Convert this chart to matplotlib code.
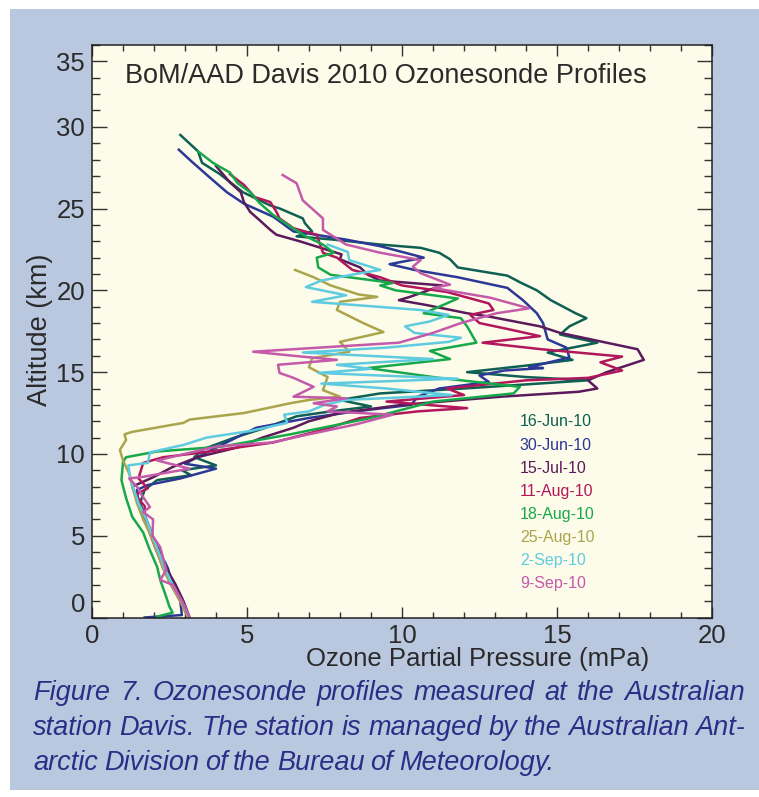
import matplotlib
matplotlib.use("Agg")
import matplotlib.pyplot as plt
from matplotlib.patches import Rectangle
from matplotlib.ticker import MultipleLocator

# ozonesonde profiles: partial pressure (mPa) against altitude (km)
dates = ["16-Jun-10", "30-Jun-10", "15-Jul-10", "11-Aug-10",
         "18-Aug-10", "25-Aug-10", "2-Sep-10", "9-Sep-10"]
colors = ["#0e5f54", "#2b3896", "#5b1a5c", "#b2175c",
          "#17a84b", "#aaa54c", "#5fcbe0", "#c45aaa"]

jun16_alt = [0, 1, 2, 3, 4, 5, 6, 7, 7.8, 8.4, 8.7, 9.0, 9.3, 9.8, 10.3, 11.0, 11.6, 12.3, 12.6, 12.9,
             13.3, 13.7, 14.0, 14.5, 14.7, 15.0, 15.4, 15.75, 16.2, 16.8, 17.3, 17.8, 18.3, 18.6, 19.4,
             20.0, 20.5, 20.9, 21.4, 21.9, 22.3, 22.6, 22.8, 23.1, 23.3, 23.6, 24.1, 24.4, 25.0, 25.2,
             26.0, 27.1, 27.8, 28.5, 29.5]
jun16_o3 = [3.1, 2.9, 2.6, 2.35, 2.15, 1.95, 1.75, 1.55, 1.7, 2.1, 3.2, 2.9, 4.0, 3.3, 3.6, 4.6, 5.6, 6.6, 7.7, 9.0,
            8.0, 9.3, 12.0, 16.0, 14.0, 12.1, 14.0, 15.5, 14.7, 16.3, 15.1, 15.4, 15.95, 15.6, 14.8,
            14.35, 13.8, 13.4, 11.8, 11.55, 11.2, 10.6, 9.3, 7.8, 6.6, 7.1, 6.87, 6.8, 6.06, 5.74,
            4.87, 4.13, 3.55, 3.42, 2.85]

jun30_alt = [0, 0.15, 1, 2, 3, 3.4, 4, 5, 6, 7, 7.8, 8.1, 8.5, 9.1, 9.4, 10.0, 10.9, 11.6, 12.2, 12.6,
             13.0, 13.5, 14.0, 14.4, 14.8, 15.1, 15.25, 15.3, 15.9, 16.5, 17.0, 18.0, 18.6, 19.4, 20.15,
             20.8, 21.25, 21.6, 22.0, 22.7, 23.1, 23.5, 23.6, 24.5, 25.3, 26.0, 26.9, 27.9, 28.6]
jun30_o3 = [1.7, 2.9, 2.85, 2.6, 2.45, 2.35, 2.1, 1.9, 1.7, 1.5, 1.45, 1.8, 2.85, 4.0, 3.0, 3.6, 4.55, 5.3, 7.0, 8.5,
            10.3, 10.5, 11.2, 12.8, 12.5, 13.3, 14.55, 14.1, 15.4, 15.3, 14.7, 14.55, 14.35, 13.9, 13.4,
            11.8, 10.4, 9.6, 10.7, 9.3, 8.2, 6.9, 6.5, 5.85, 4.9, 4.35, 3.8, 3.2, 2.8]

jul15_alt = [0, 1, 2, 3, 4, 5, 6, 7, 8.0, 8.6, 9.2, 9.8, 10.4, 11.0, 11.6, 12.0, 12.5, 13.0, 13.5, 13.8,
             14.0, 14.5, 15.0, 15.75, 16.4, 16.5, 17.4, 17.8, 18.4, 18.6, 19.1, 19.4, 19.6, 20.3, 20.6,
             20.95, 21.4, 21.9, 22.2, 22.35, 23.0, 23.4, 23.7, 24.3, 24.8, 25.4, 26.0, 26.6, 27.6]
jul15_o3 = [3.15, 2.95, 2.7, 2.4, 2.2, 1.95, 1.75, 1.5, 1.3, 2.0, 2.6, 3.4, 4.7, 5.5, 6.5, 7.0, 8.0, 10.0, 13.2, 15.7,
            16.3, 16.0, 16.6, 17.8, 17.6, 17.35, 15.1, 14.45, 12.8, 12.1, 10.8, 9.9, 10.25, 11.3, 9.3,
            8.9, 8.65, 8.0, 8.05, 7.8, 6.7, 5.95, 5.75, 5.4, 5.1, 4.9, 4.8, 4.45, 4.0]

aug11_alt = [0, 1, 2, 3, 4, 5, 6, 6.8, 7.5, 7.9, 8.5, 9.45, 9.8, 10.1, 10.7, 11.5, 12.2, 12.6, 12.8, 13.2,
             13.6, 14.0, 14.5, 14.65, 15.1, 15.6, 15.95, 16.4, 16.8, 17.2, 17.6, 18.0, 18.5, 18.8, 19.2,
             19.9, 20.3, 20.8, 21.25, 22.0, 22.3, 23.4, 23.8, 24.4, 24.8, 25.4, 25.7, 26.45, 27.1]
aug11_o3 = [3.1, 2.85, 2.55, 2.3, 2.1, 1.9, 1.7, 1.7, 1.4, 1.8, 1.5, 1.65, 2.3, 3.6, 5.85, 7.5, 8.65, 10.5, 12.1, 9.5,
            12.0, 11.45, 14.0, 16.0, 17.1, 16.4, 17.1, 14.5, 12.6, 14.45, 13.5, 12.5, 12.2, 12.95, 12.8,
            11.45, 10.0, 9.3, 8.4, 7.9, 7.45, 7.25, 6.5, 6.05, 5.95, 5.75, 5.25, 4.9, 4.45]

aug18_alt = [0.05, 0.3, 0.65, 1.5, 2.3, 3.1, 4.2, 5.2, 6.15, 7.3, 8.4, 9.5, 9.8, 10.15, 10.45, 11.2, 12.2,
             13.2, 13.7, 14.1, 14.65, 15.25, 15.8, 16.3, 16.8, 17.8, 18.3, 18.6, 19.0, 19.5, 20.0, 20.3,
             20.45, 20.95, 21.4, 22.0, 22.3, 22.8, 23.3, 23.9, 24.6, 25.35, 26.0, 26.55, 27.2, 27.8, 28.5]
aug18_o3 = [2.1, 2.6, 2.5, 2.35, 2.2, 2.1, 1.85, 1.65, 1.3, 1.1, 0.95, 1.0, 1.1, 2.1, 4.2, 6.4, 9.0,
            11.0, 13.6, 13.8, 11.2, 8.9, 11.55, 10.9, 12.4, 12.1, 11.9, 10.7, 11.2, 11.8, 9.8, 9.3,
            9.7, 7.7, 7.3, 7.25, 7.8, 7.45, 6.9, 6.4, 5.85, 5.4, 5.1, 4.7, 4.45, 3.9, 3.42]

aug25_alt = [0, 1, 2, 3, 4, 5, 6, 7, 8, 8.8, 9.6, 10.25, 10.85, 11.2, 11.35, 11.9, 12.1, 12.5, 13.1, 13.3,
             13.5, 13.9, 14.7, 15.3, 15.85, 16.25, 16.85, 17.45, 18.0, 18.8, 19.3, 19.6, 19.75, 20.3, 20.8, 21.25]
aug25_o3 = [3.1, 2.85, 2.55, 2.3, 2.1, 1.9, 1.65, 1.45, 1.3, 1.2, 1.0, 0.9, 1.1, 1.05, 1.3, 2.95, 3.15, 4.9, 6.4, 7.0,
            8.0, 7.45, 7.6, 7.0, 7.1, 8.3, 8.0, 9.4, 8.75, 7.9, 8.0, 9.2, 8.6, 7.7, 7.15, 6.55]

sep02_alt = [0, 1, 2, 3, 4, 5, 6, 7, 8.4, 9.3, 9.45, 10.1, 10.55, 11.0, 11.4, 11.9, 12.4, 12.6, 13.0, 13.3,
             13.6, 14.0, 14.3, 14.6, 14.95, 15.2, 15.45, 15.8, 16.2, 16.5, 16.85, 17.1, 17.4, 17.8, 18.1,
             18.5, 18.8, 19.3, 19.7, 20.2, 20.6, 21.0, 21.25, 21.85, 22.35, 22.8]
sep02_o3 = [3.15, 2.9, 2.6, 2.35, 2.15, 1.95, 1.75, 1.5, 1.25, 1.17, 1.8, 1.87, 2.95, 3.7, 5.1, 6.3, 6.2, 7.0, 7.5, 8.2,
            11.6, 9.5, 7.4, 11.8, 7.3, 9.0, 7.9, 11.0, 6.8, 9.5, 11.5, 11.9, 10.4, 10.1, 10.9,
            11.5, 10.6, 7.1, 8.2, 6.9, 7.4, 8.5, 9.3, 8.3, 8.25, 7.6]

sep09_alt = [0, 1, 2, 2.3, 2.9, 4.3, 5, 6.0, 6.45, 6.75, 7.5, 8.0, 8.5, 8.6, 9.1, 9.6, 10.45, 10.7, 11.2, 11.8,
             12.4, 12.6, 12.9, 13.1, 13.4, 13.5, 14.1, 14.65, 14.95, 15.45, 15.75, 16.0, 16.25, 16.8, 17.4,
             18.0, 18.6, 18.9, 19.55, 20.15, 20.35, 21.05, 21.45, 21.85, 22.3, 22.8, 23.7, 24.4, 25.5, 26.55, 27.05]
sep09_o3 = [3.15, 2.9, 2.6, 2.2, 2.4, 2.2, 1.95, 1.97, 1.65, 1.87, 1.6, 1.45, 1.2, 1.65, 3.15, 2.1, 4.0, 5.8, 7.0, 8.5,
            9.7, 7.6, 7.9, 7.15, 8.2, 6.5, 7.15, 6.5, 6.05, 6.0, 7.9, 6.5, 5.2, 9.9, 11.0,
            11.9, 13.05, 14.1, 12.85, 11.0, 11.55, 10.6, 10.35, 10.6, 9.3, 8.2, 7.45, 7.45, 6.8, 6.6, 6.15]

profiles = [(jun16_o3, jun16_alt), (jun30_o3, jun30_alt), (jul15_o3, jul15_alt), (aug11_o3, aug11_alt),
            (aug18_o3, aug18_alt), (aug25_o3, aug25_alt), (sep02_o3, sep02_alt), (sep09_o3, sep09_alt)]

caption = ["Figure 7. Ozonesonde profiles measured at the Australian",
           "station Davis. The station is managed by the Australian Ant-",
           "arctic Division of the Bureau of Meteorology."]

plt.rcParams["font.family"] = ["Liberation Sans", "DejaVu Sans"]

W, H = 759, 797
fig = plt.figure(figsize=(W / 100, H / 100), dpi=100)
fig.patch.set_facecolor("white")
fig.patches.append(Rectangle((10 / W, 7 / H), 1 - 10 / W, 781 / H, transform=fig.transFigure,
                             facecolor="#b9c7df", edgecolor="none", zorder=-5))

ax = fig.add_axes([92 / W, 1 - 617.5 / H, 620 / W, 572.5 / H])
ax.set_zorder(2)
ax.set_facecolor("#fdfbe9")

for (x, y), c in zip(profiles, colors):
    ax.plot(x, y, color=c, lw=1.8, solid_joinstyle="round")

ax.set_xlim(0, 20)
ax.set_ylim(0, 35)
ax.xaxis.set_major_locator(MultipleLocator(5))
ax.xaxis.set_minor_locator(MultipleLocator(1))
ax.set_yticks([0, 5, 10, 15, 20, 25, 30, 34])
ax.set_yticklabels(["0", "5", "10", "15", "20", "25", "30", "35"])
ax.yaxis.set_minor_locator(MultipleLocator(1))
ax.yaxis.get_majorticklabels()[0].set_va("bottom")

ax.tick_params(axis="both", which="both", direction="in", top=True, right=True,
               color="#333333", width=1.0, labelsize=18.5, labelcolor="#2a2a2a")
ax.tick_params(axis="x", which="major", length=8, pad=5)
ax.tick_params(axis="x", which="minor", length=4)
ax.tick_params(axis="y", which="major", length=11, pad=5)
ax.tick_params(axis="y", which="minor", length=5.5)
for s in ax.spines.values():
    s.set_color("#222222")
    s.set_linewidth(1.1)

ax.text(0.053, 0.946, "BoM/AAD Davis 2010 Ozonesonde Profiles", transform=ax.transAxes,
        fontsize=19.5, color="#2a2a2a", va="center", ha="left")

for i, (d, c) in enumerate(zip(dates, colors)):
    ax.text(0.69, 0.3415 - i * 0.0402, d, transform=ax.transAxes, fontsize=11.5,
            color=c, va="center", ha="left")

fig.text(478 / W, 1 - 659 / H, "Ozone Partial Pressure (mPa)",
         fontsize=18.5, color="#2a2a2a", ha="center", va="center")
fig.text(40 / W, 1 - 330 / H, "Altitude (km)", rotation=90,
         fontsize=19.5, color="#2a2a2a", ha="center", va="center")

# justified caption, word by word
r = fig.canvas.get_renderer()
x0, x1 = 33, 745
for k, line in enumerate(caption):
    yb = 1 - (700 + k * 35) / H
    words = line.split()
    texts = [fig.text(0, yb, w, style="italic", fontsize=19.5,
                      color="#2b2e86", va="baseline") for w in words]
    widths = [t.get_window_extent(r).width for t in texts]
    if k < len(caption) - 1:
        gap = (x1 - x0 - sum(widths)) / (len(words) - 1)
    else:
        gap = texts[0].get_fontsize() * 0.3
    pos = x0
    for t, w in zip(texts, widths):
        t.set_x(pos / W)
        pos += w + gap

fig.savefig("out.png", dpi=100, facecolor=fig.get_facecolor())
